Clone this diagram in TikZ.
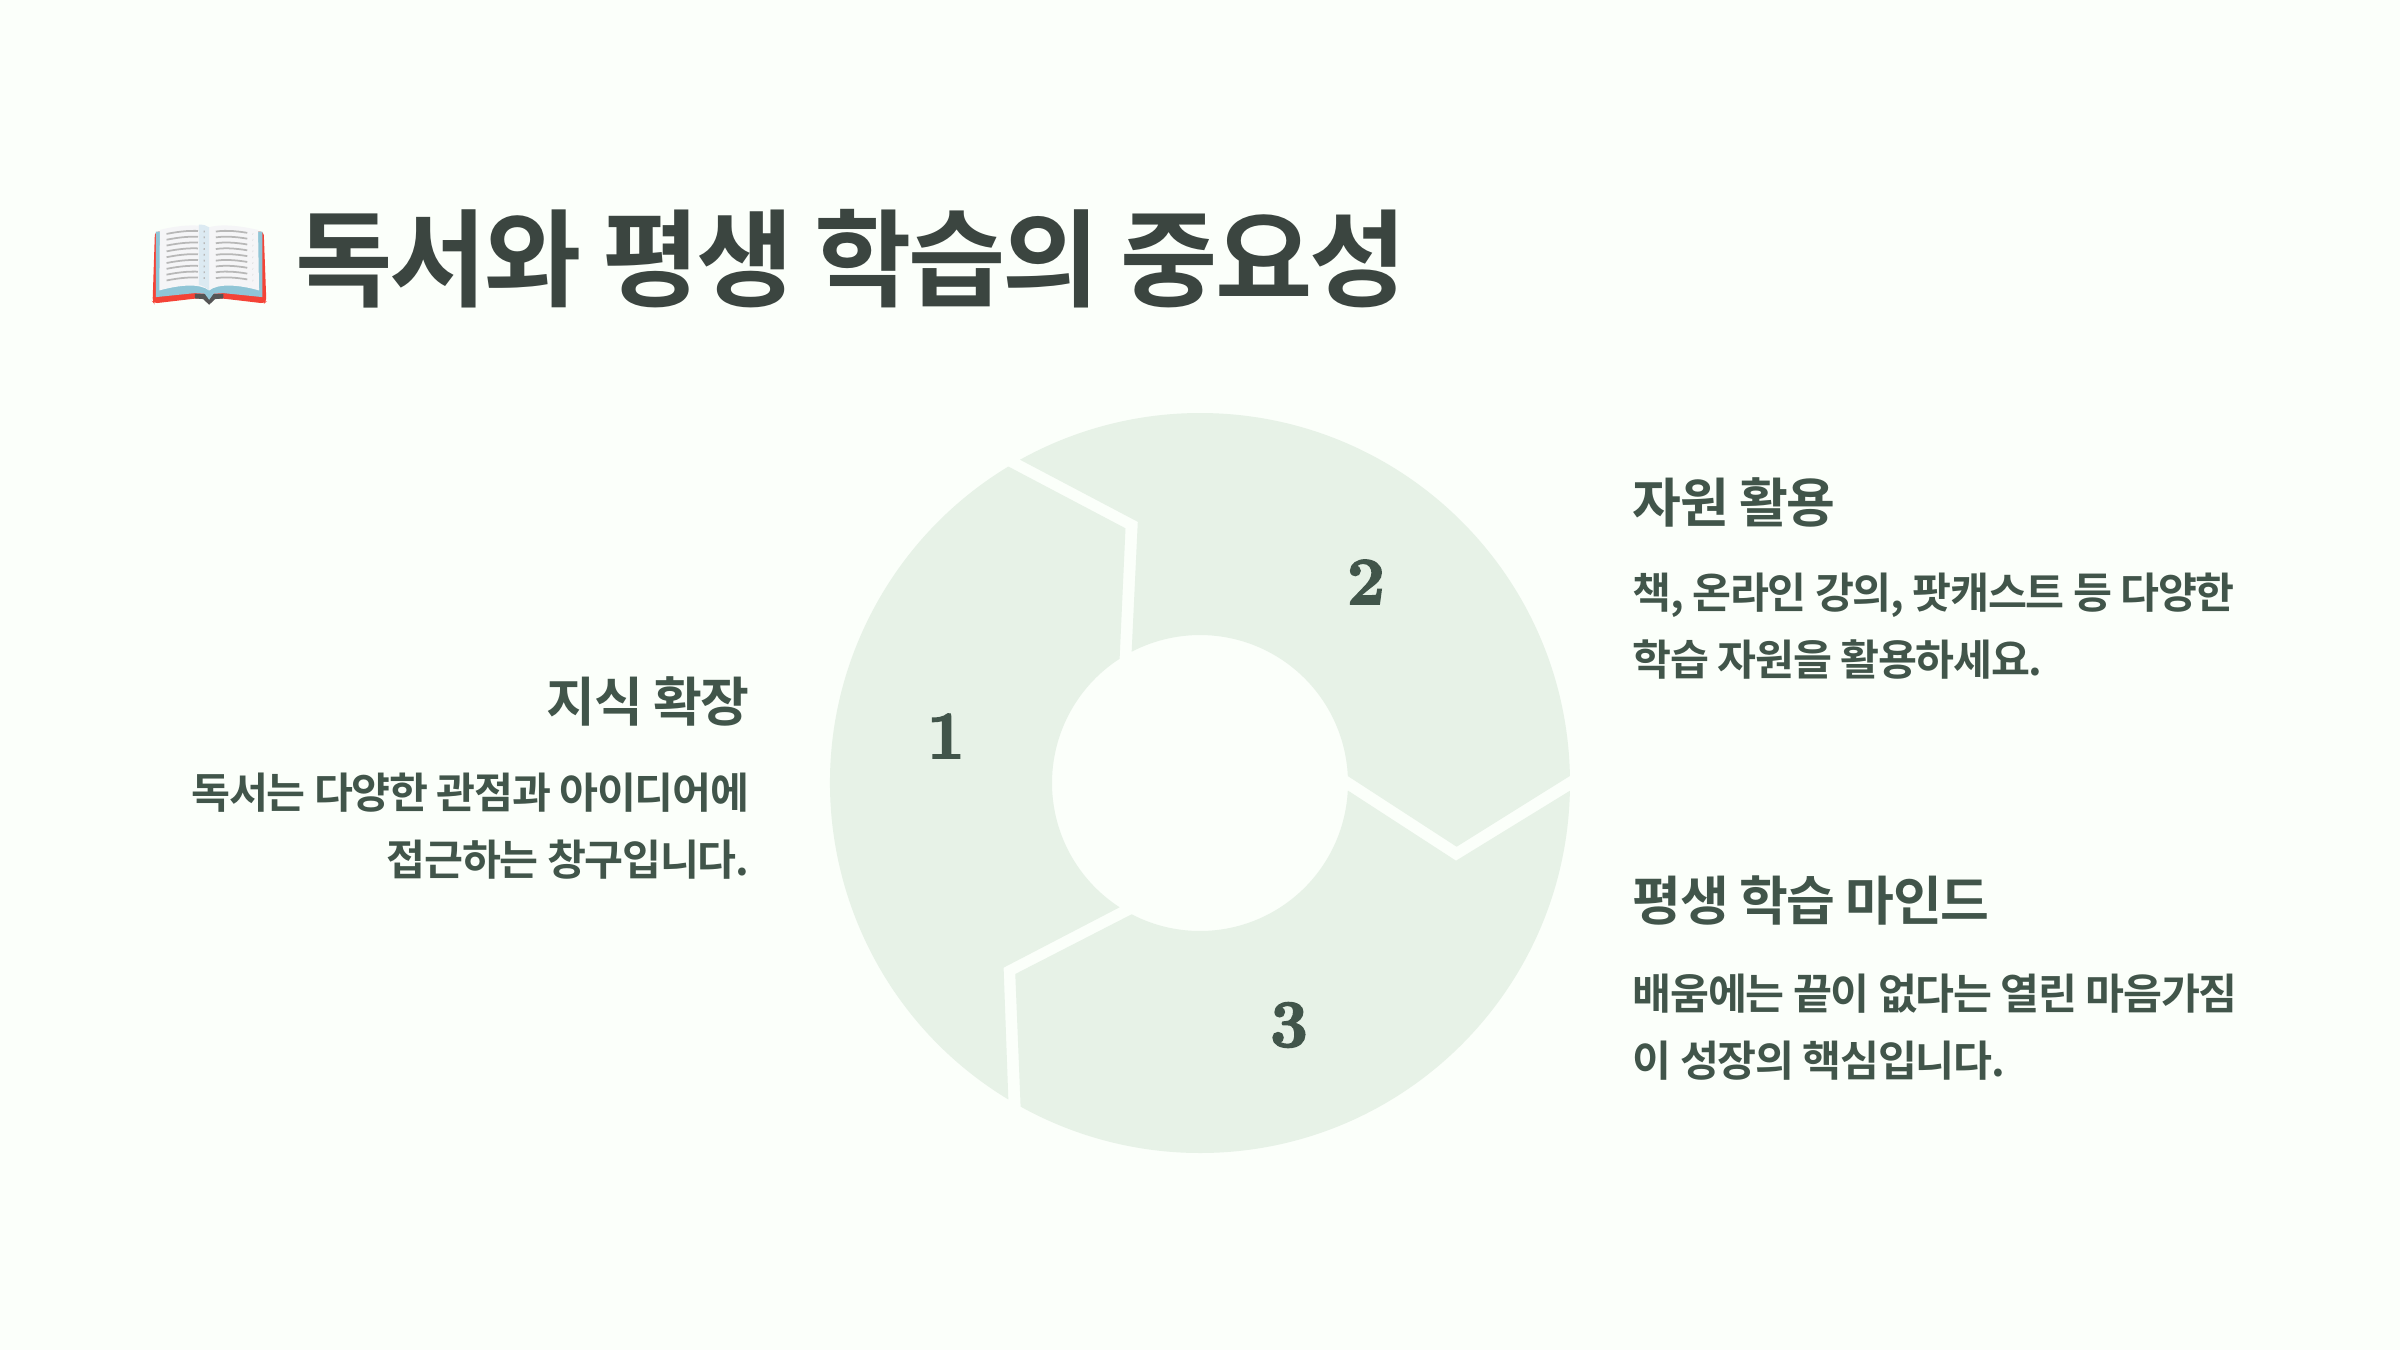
\documentclass[tikz,border=0pt]{standalone}
\usepackage{fontspec}
\usetikzlibrary{positioning}
\newfontfamily\krfont[BoldFont={Noto Sans CJK KR Bold},LetterSpace=-3]{Noto Sans CJK KR}
\newfontfamily\numfont[BoldFeatures={FakeBold=3}]{Latin Modern Roman}
\definecolor{slBack}{HTML}{FBFFFA}
\definecolor{slRing}{HTML}{E7F2E7}
\definecolor{slTitle}{HTML}{3B4540}
\definecolor{slText}{HTML}{41554A}
\definecolor{bkCover}{HTML}{F44336}
\definecolor{bkSpine}{HTML}{555555}
\definecolor{bkBlue}{HTML}{90C5D6}
\definecolor{bkPage}{HTML}{F5F5F7}
\definecolor{bkFold}{HTML}{DCEAF2}
\tikzset{
  seg/.style={fill=slRing, draw=none},
  num/.style={font=\numfont\bfseries\fontsize{19}{19}\selectfont, text=slText, inner sep=0pt},
  titlenode/.style={font=\krfont\bfseries\fontsize{30.1}{34}\selectfont, text=slTitle, inner sep=0pt, anchor=base west},
  head/.style={font=\krfont\bfseries\fontsize{15.1}{18}\selectfont, text=slText, inner sep=0pt},
  bodytext/.style={font=\krfont\bfseries\fontsize{12.05}{18.8}\selectfont, text=slText, inner sep=0pt},
  pageline/.style={draw=black!28, line width=0.5pt, dash pattern=on 9pt off 1.6pt on 5pt off 1.4pt},
}
\begin{document}
\begin{tikzpicture}
\fill[slBack] (-12,7.83) rectangle (12,-5.67);
\useasboundingbox (-12,7.83) rectangle (12,-5.67);

% ring
\fill[seg] (121.2:3.7) -- (-.745,2.547) -- (122.9:1.48) arc[start angle=122.9, end angle=237.1, radius=1.48] -- (-1.964,-1.846) -- (238.8:3.7) arc[start angle=238.8, end angle=121.2, radius=3.7] -- cycle;
\fill[seg] (119.1:3.7) -- (-.622,2.612) -- (117.5:1.48) arc[start angle=117.5, end angle=2.7, radius=1.48] -- (2.566,-.637) -- (1.1:3.7) arc[start angle=1.1, end angle=119.1, radius=3.7] -- cycle;
\fill[seg] (-2.9:1.48) -- (2.56,-.777) -- (-1.2:3.7) arc[start angle=-1.2, end angle=-119, radius=3.7] -- (-1.847,-1.91) -- (-117.5:1.48) arc[start angle=-117.5, end angle=-2.9, radius=1.48] -- cycle;

\node[num] (n1) at (-2.54,.47) {1};
\node[num] (n2) at (1.66,2.01) {2};
\node[num] (n3) at (.89,-2.42) {3};

% book
\begin{scope}[shift={(-10.7,5.93)}, x=.003333cm, y=-.003333cm]
\fill[bkCover, rounded corners=1pt] (75,125) -- (68,336) -- (72,341) -- (200,326) -- (276,326) -- (404,341) -- (410,336) -- (402,125) -- cycle;
\fill[bkSpine] (195,312) -- (195,326) -- (220,328) -- (238,345) -- (256,328) -- (281,326) -- (281,312) -- cycle;
\fill[bkBlue] (78,125) -- (78,322) -- (195,310) -- (225,312) -- (238,330) -- (251,312) -- (281,310) -- (398,322) -- (398,125) -- cycle;
\fill[bkPage] (90,120) .. controls (130,110) and (190,100) .. (238,112) -- (238,302) .. controls (210,280) and (150,285) .. (88,302) -- cycle;
\fill[bkPage] (238,112) .. controls (280,100) and (340,110) .. (385,120) -- (388,302) .. controls (330,285) and (265,280) .. (238,302) -- cycle;
\fill[bkFold] (207,104) .. controls (220,104) and (230,106) .. (238,112) -- (238,302) .. controls (228,292) and (216,287) .. (207,285) -- cycle;
\foreach \row in {0,...,8}{
  \draw[pageline] (110,{132+\row*17.5}) .. controls (150,{124+\row*17.5}) and (190,{120+\row*17.5}) .. (225,{125+\row*17.5});
  \draw[pageline] (258,{125+\row*17.5}) .. controls (290,{120+\row*17.5}) and (330,{124+\row*17.5}) .. (370,{132+\row*17.5});
}
\end{scope}

\node[titlenode] (title) at (-9.05,4.85) {독서와 평생 학습의 중요성};

\node[head, anchor=base east] (expand) at (-4.5,.62) {지식 확장};
\node[bodytext, align=right, below=1.54 of expand.base east, anchor=base east] (expandtxt) {독서는 다양한 관점과 아이디어에\\접근하는 창구입니다.};

\node[head, anchor=base west] (resource) at (4.32,2.61) {자원 활용};
\node[bodytext, align=left, below=1.53 of resource.base west, anchor=base west] (resourcetxt) {책, 온라인 강의, 팟캐스트 등 다양한\\학습 자원을 활용하세요.};

\node[head, anchor=base west] (mind) at (4.32,-1.37) {평생 학습 마인드};
\node[bodytext, align=left, below=1.56 of mind.base west, anchor=base west] (mindtxt) {배움에는 끝이 없다는 열린 마음가짐\\이 성장의 핵심입니다.};
\end{tikzpicture}
\end{document}
